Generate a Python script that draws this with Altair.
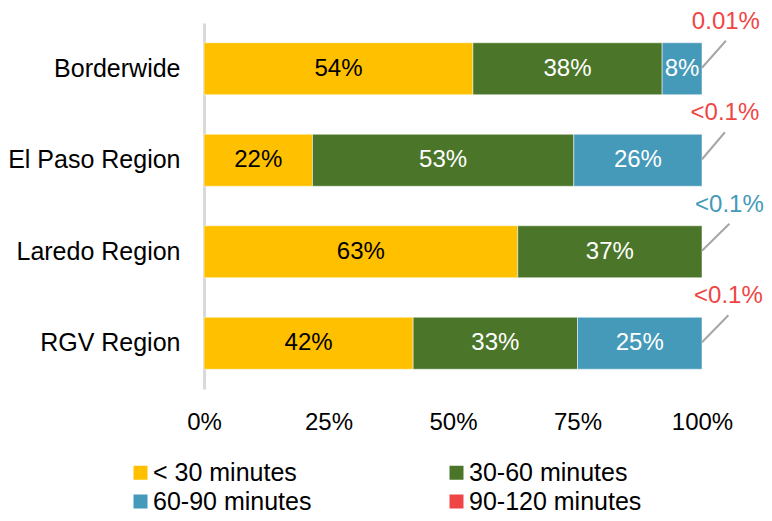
import altair as alt
import pandas as pd

# ---------------- data ----------------
regions = ["Borderwide", "El Paso Region", "Laredo Region", "RGV Region"]
bands = ["< 30 minutes", "30-60 minutes", "60-90 minutes", "90-120 minutes"]
colors = ["#ffc000", "#4b7629", "#4599b9", "#ef4545"]

under_30 = [54, 22, 63, 42]
m30_60 = [38, 53, 37, 33]
m60_90 = [8, 26, 0, 25]

note_text = ["0.01%", "<0.1%", "<0.1%", "<0.1%"]
note_band = ["90-120 minutes", "90-120 minutes", "60-90 minutes", "90-120 minutes"]
note_x = [104.8, 104.6, 105.5, 105.3]

# ---------------- tables ----------------
rows = []
for i, r in enumerate(regions):
    vals = [under_30[i], m30_60[i], m60_90[i]]
    total = sum(vals)
    start = 0.0
    for j, v in enumerate(vals):
        if v <= 0:
            continue
        share = v / total * 100
        rows.append({
            "region": r, "band": bands[j], "order": j,
            "start": start, "end": start + share, "mid": start + share / 2,
            "label": f"{v}%",
        })
        start += share
bars_df = pd.DataFrame(rows)

notes_df = pd.DataFrame({
    "region": regions, "text": note_text, "band": note_band,
    "nx": note_x, "bar_end": [100] * len(regions),
})

# legend is laid out column by column, so order the domain for row-wise reading
legend_order = [0, 2, 1, 3]
dom = [bands[k] for k in legend_order]
rng = [colors[k] for k in legend_order]

FONT = "Liberation Sans"

y_enc = alt.Y(
    "region:N", sort=regions, title=None,
    scale=alt.Scale(paddingInner=0.432, paddingOuter=0.216),
    axis=alt.Axis(ticks=False, domainColor="#d9d9d9", domainWidth=3,
                  labelFontSize=25, labelColor="#000000", labelPadding=24,
                  labelFont=FONT, grid=False),
)
x_scale = alt.Scale(domain=[0, 100], nice=False)

bars = alt.Chart(bars_df).mark_bar(stroke="white", strokeWidth=0.5).encode(
    x=alt.X("start:Q", scale=x_scale, title=None,
            axis=alt.Axis(values=[0, 25, 50, 75, 100], labelExpr="datum.value + '%'",
                          domain=False, ticks=False, grid=False, labelFontSize=24,
                          labelColor="#000000", labelPadding=21, labelFont=FONT,
                          labelFlush=False)),
    x2="end:Q",
    y=y_enc,
    color=alt.Color("band:N", scale=alt.Scale(domain=dom, range=rng),
                    legend=alt.Legend(
                        title=None, orient="none", legendX=-76, legendY=437,
                        columns=2, columnPadding=132, rowPadding=3,
                        symbolType="square", symbolSize=196, symbolStrokeWidth=0,
                        labelFontSize=25, labelFont=FONT, labelColor="#000000",
                        labelOffset=0, labelLimit=400, padding=0)),
    order="order:O",
)

bar_text = alt.Chart(bars_df).mark_text(fontSize=24, font=FONT).encode(
    x=alt.X("mid:Q", scale=x_scale),
    y=alt.Y("region:N", sort=regions),
    text="label:N",
    color=alt.condition(alt.datum.band == bands[0], alt.value("#000000"), alt.value("#ffffff")),
)

leaders = alt.Chart(notes_df).mark_rule(color="#a6a6a6", strokeWidth=2,
                                        yOffset=-1, y2Offset=-28).encode(
    x=alt.X("bar_end:Q", scale=x_scale),
    x2="nx:Q",
    y=alt.Y("region:N", sort=regions),
    y2="region:N",
)

notes = alt.Chart(notes_df).mark_text(fontSize=24, font=FONT, dy=-47).encode(
    x=alt.X("nx:Q", scale=x_scale),
    y=alt.Y("region:N", sort=regions),
    text="text:N",
    color=alt.condition(alt.datum.band == bands[2], alt.value(colors[2]), alt.value(colors[3])),
)

chart = alt.layer(bars, bar_text, leaders, notes).properties(
    width=498, height=366,
    autosize=alt.AutoSizeParams(type="none"),
    padding={"left": 196, "top": 15, "right": 62, "bottom": 124},
).configure(font=FONT).configure_view(stroke=None)

chart.save("out.html", embed_options={"renderer": "svg", "actions": False})
